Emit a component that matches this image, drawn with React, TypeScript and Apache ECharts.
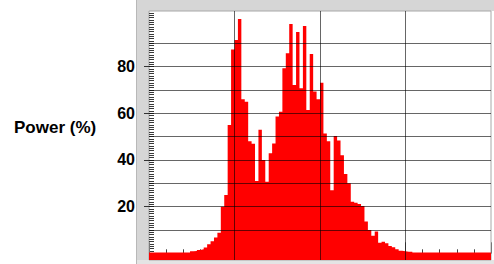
import { useEffect, useRef } from "react";
import * as echarts from "echarts";

// Histogram bin heights (Power %), 100 equal bins across the x range
const binValues: number[] = [
  0.3, 0.3, 0.3, 0.3, 0.3, 0.3, 0.3, 0.3, 0.3, 0.3,
  0.3, 0.3, 0.9, 1.0, 1.4, 1.7, 2.5, 3.9, 5.2, 6.8,
  8.8, 20, 25, 55, 87.4, 91.4, 100.4, 66, 65, 48,
  47, 31, 53, 40, 30.7, 42.9, 47.1, 58.6, 60.7, 79.3,
  85.7, 98.3, 72.1, 94.9, 70.7, 97.4, 61.4, 85.4, 69.3, 66,
  73.1, 51.4, 48, 27, 50.3, 48.3, 42, 34, 30, 22.1,
  21.7, 21.1, 20.3, 13.6, 10, 7.5, 9.3, 4.5, 5, 4.3,
  3.1, 2.6, 1.7, 1.1, 0.9, 0.7, 0.7, 0.3, 0.3, 0.3,
  0.3, 0.3, 0.3, 0.3, 0.3, 0.3, 0.3, 0.3, 0.3, 0.3,
  0.3, 0.3, 0.3, 0.3, 0.3, 0.3, 0.3, 0.3, 0.3, 0.3,
];
const yTickLabels: number[] = [20, 40, 60, 80];
const yGridValues: number[] = [10, 20, 30, 40, 50, 60, 70, 80, 90];
const xGridValues: number[] = [25, 50, 75];
const yAxisTitle = "Power (%)";
const xMin = 0;
const xMax = 100;
const yMin = -2.87;
const yMax = 103.85;

export default function App() {
  const ref = useRef<HTMLDivElement>(null);
  useEffect(() => {
    if (!ref.current) return;
    const chart = echarts.init(ref.current, null, { renderer: "svg" });
    const stepData: number[][] = binValues.map((v, i) => [i, v]);
    stepData.push([binValues.length, binValues[binValues.length - 1]]);
    const rulerTicks: number[] = [];
    for (let v = -2; v <= 103; v++) rulerTicks.push(v);
    const gridLine = { type: "solid", color: "rgba(0,0,0,0.6)", width: 1 };
    chart.setOption({
      animation: false,
      grid: {
        left: 149,
        right: 3,
        top: 11,
        bottom: 4,
        show: true,
        backgroundColor: "#ffffff",
        borderColor: "#a8a8a8",
        borderWidth: 1,
      },
      graphic: [
        { type: "rect", z: -10, shape: { x: 136, y: 0, width: 358, height: 11 }, style: { fill: "#d6d6d6" } },
        { type: "rect", z: -10, shape: { x: 136, y: 0, width: 13, height: 264 }, style: { fill: "#d6d6d6" } },
        { type: "rect", z: -10, shape: { x: 136, y: 260, width: 358, height: 4 }, style: { fill: "#e4e4e4" } },
        { type: "line", z: -9, shape: { x1: 136.5, y1: 0, x2: 136.5, y2: 264 }, style: { stroke: "#b8b8b8", lineWidth: 1 } },
        {
          type: "text",
          x: 14,
          y: 127,
          style: {
            text: yAxisTitle,
            font: "bold 17px 'Liberation Sans', Arial, sans-serif",
            fill: "#000",
            textVerticalAlign: "middle",
          },
        },
      ],
      xAxis: [
        {
          type: "value",
          position: "top",
          min: xMin,
          max: xMax,
          interval: 5,
          offset: 4,
          axisLine: { show: false },
          axisTick: { show: true, length: 4, lineStyle: { color: "#444", width: 1 } },
          axisLabel: { show: false },
          splitLine: { show: false },
        },
        {
          type: "value",
          position: "top",
          min: xMin,
          max: xMax,
          interval: 25,
          offset: 0,
          axisLine: { show: false },
          axisTick: { show: true, length: 11, lineStyle: { color: "#777", width: 1 } },
          axisLabel: { show: false },
          splitLine: { show: false },
        },
      ],
      yAxis: [
        {
          type: "value",
          min: yMin,
          max: yMax,
          offset: 11,
          axisLine: { show: false },
          axisTick: { show: true, length: 5, customValues: yTickLabels, lineStyle: { color: "#333" } },
          axisLabel: {
            show: true,
            customValues: yTickLabels,
            margin: 3,
            color: "#000",
            fontWeight: "bold",
            fontSize: 16,
            fontFamily: "'Liberation Sans', Arial, sans-serif",
          },
          splitLine: { show: false },
        },
        {
          type: "value",
          min: yMin,
          max: yMax,
          offset: 2,
          axisLine: { show: false },
          axisTick: { show: true, length: 5, customValues: rulerTicks, lineStyle: { color: "#3a3a3a", width: 1 } },
          axisLabel: { show: false },
          splitLine: { show: false },
        },
      ],
      series: [
        {
          type: "line",
          xAxisIndex: 0,
          yAxisIndex: 0,
          step: "end",
          symbol: "none",
          data: stepData,
          lineStyle: { width: 0, opacity: 0 },
          areaStyle: { color: "#ff0000", opacity: 1, origin: "start" },
          silent: true,
          markLine: {
            silent: true,
            symbol: ["none", "none"],
            label: { show: false },
            emphasis: { disabled: true },
            lineStyle: gridLine,
            data: [
              ...yGridValues.map((v) => ({ yAxis: v })),
              ...xGridValues.map((v) => ({ xAxis: v })),
            ],
          },
        },
      ],
    });
    return () => chart.dispose();
  }, []);
  return <div ref={ref} style={{ position: "absolute", left: 0, top: 0, width: 494, height: 264 }} />;
}
